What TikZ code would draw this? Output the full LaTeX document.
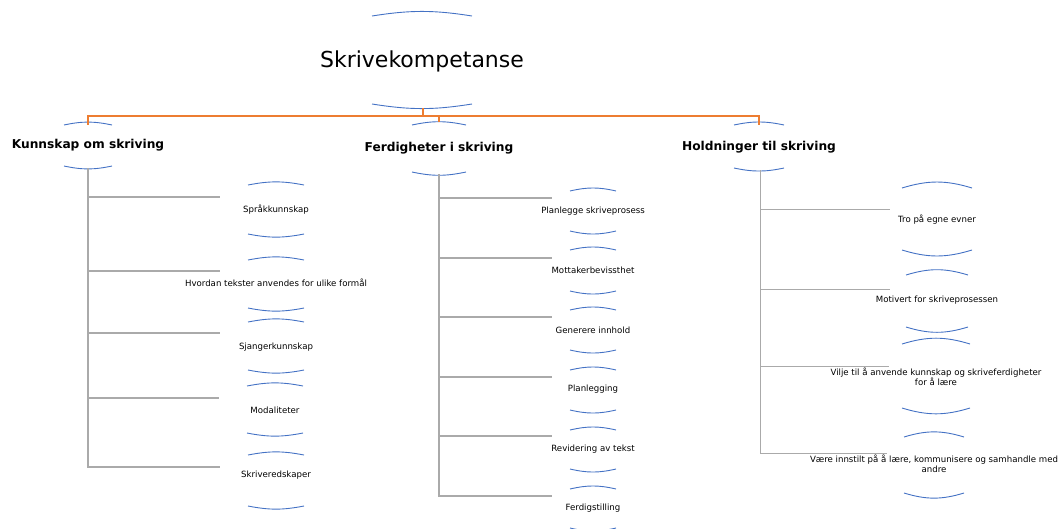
\documentclass[tikz,border=0pt]{standalone}
\usepackage{fontspec}
\setmainfont{DejaVu Sans}
\usetikzlibrary{calc}

\definecolor{lensblue}{RGB}{68,114,196}
\definecolor{trunkorange}{RGB}{237,125,49}
\definecolor{branchgray}{RGB}{170,170,170}

\begin{document}
\begin{tikzpicture}[x=1pt,y=-1pt,
    every node/.style={inner sep=0pt},
    toptext/.style={font=\fontsize{22}{26}\selectfont},
    headtext/.style={font=\bfseries\fontsize{12.2}{14}\selectfont},
    leaftext/.style={font=\fontsize{8.6}{10.5}\selectfont, align=center},
    lens/.style={lensblue, line width=0.9pt},
    trunk/.style={trunkorange, line width=1.1pt},
    branch/.style={branchgray, line width=1.1pt}]
    \useasboundingbox (0,0) rectangle (1059,528);

    % main concept and the three areas
    \node[toptext] (top) at (422,61) {Skrivekompetanse};
    \node[headtext] (kos) at (88,145) {Kunnskap om skriving};
    \node[headtext] (fis) at (439,148) {Ferdigheter i skriving};
    \node[headtext] (hts) at (759,147) {Holdninger til skriving};

    % knowledge
    \node[leaftext] (k1) at (276,210) {Språkkunnskap};
    \node[leaftext] (k2) at (276,283) {Hvordan tekster anvendes for ulike formål};
    \node[leaftext] (k3) at (276,347) {Sjangerkunnskap};
    \node[leaftext] (k4) at (275,410) {Modaliteter};
    \node[leaftext] (k5) at (276,475) {Skriveredskaper};

    % skills
    \node[leaftext] (f1) at (593,211) {Planlegge skriveprosess};
    \node[leaftext] (f2) at (593,270) {Mottakerbevissthet};
    \node[leaftext] (f3) at (593,330) {Generere innhold};
    \node[leaftext] (f4) at (593,389) {Planlegging};
    \node[leaftext] (f5) at (593,449) {Revidering av tekst};
    \node[leaftext] (f6) at (593,508) {Ferdigstilling};

    % attitudes
    \node[leaftext] (h1) at (937,220) {Tro på egne evner};
    \node[leaftext] (h2) at (937,300) {Motivert for skriveprosessen};
    \node[leaftext] (h3) at (936,377) {Vilje til å anvende kunnskap og skriveferdigheter\\for å lære};
    \node[leaftext] (h4) at (934,464) {Være innstilt på å lære, kommunisere og samhandle med\\andre};

    % arcs above and below every text
    \foreach \n/\w/\t/\b/\a in {top/50/45/43/9, kos/24/20/21/12, fis/27/23/24/12, hts/25/22/21/12,
        k1/28/25/24/11, k2/28/23/25/11, k3/28/25/23/11, k4/28/24/23/11, k5/28/20/31/11,
        f1/23/20/20/13, f2/23/20/21/13, f3/23/20/20/13, f4/23/19/21/13, f5/23/19/20/13, f6/23/19/20/13,
        h1/35/32/30/17, h2/31/25/27/17, h3/34/33/31/17, h4/30/27/29/17} {
      \draw[lens] ($(\n)+(-\w,-\t)$) to[bend left=\a] ($(\n)+(\w,-\t)$);
      \draw[lens] ($(\n)+(-\w,\b)$) to[bend right=\a] ($(\n)+(\w,\b)$);
    }

    % orange connectors from the top
    \draw[trunk] ($(top)+(1,47)$) -- ++(0,8) -| ($(kos)+(0,-20)$);
    \draw[trunk] ($(top)+(1,55)$) -| ($(fis)+(0,-26)$);
    \draw[trunk] ($(top)+(1,55)$) -| ($(hts)+(0,-22)$);

    % gray branches
    \foreach \n/\dy in {k1/13, k2/12, k3/14, k4/12, k5/8}
      \draw[branch, line width=1.5pt] ($(kos)+(0,23)$) |- ($(\n)+(-56,-\dy)$);
    \foreach \n/\dy in {f1/13, f2/12, f3/13, f4/12, f5/13, f6/12}
      \draw[branch] ($(fis)+(0,26)$) |- ($(\n)+(-41,-\dy)$);
    \foreach \n/\dy in {h1/11, h2/11, h3/11, h4/11}
      \draw[branch, line width=0.9pt] ($(hts)+(1,23)$) |- ($(\n)+(-47,-\dy)$);
\end{tikzpicture}
\end{document}
